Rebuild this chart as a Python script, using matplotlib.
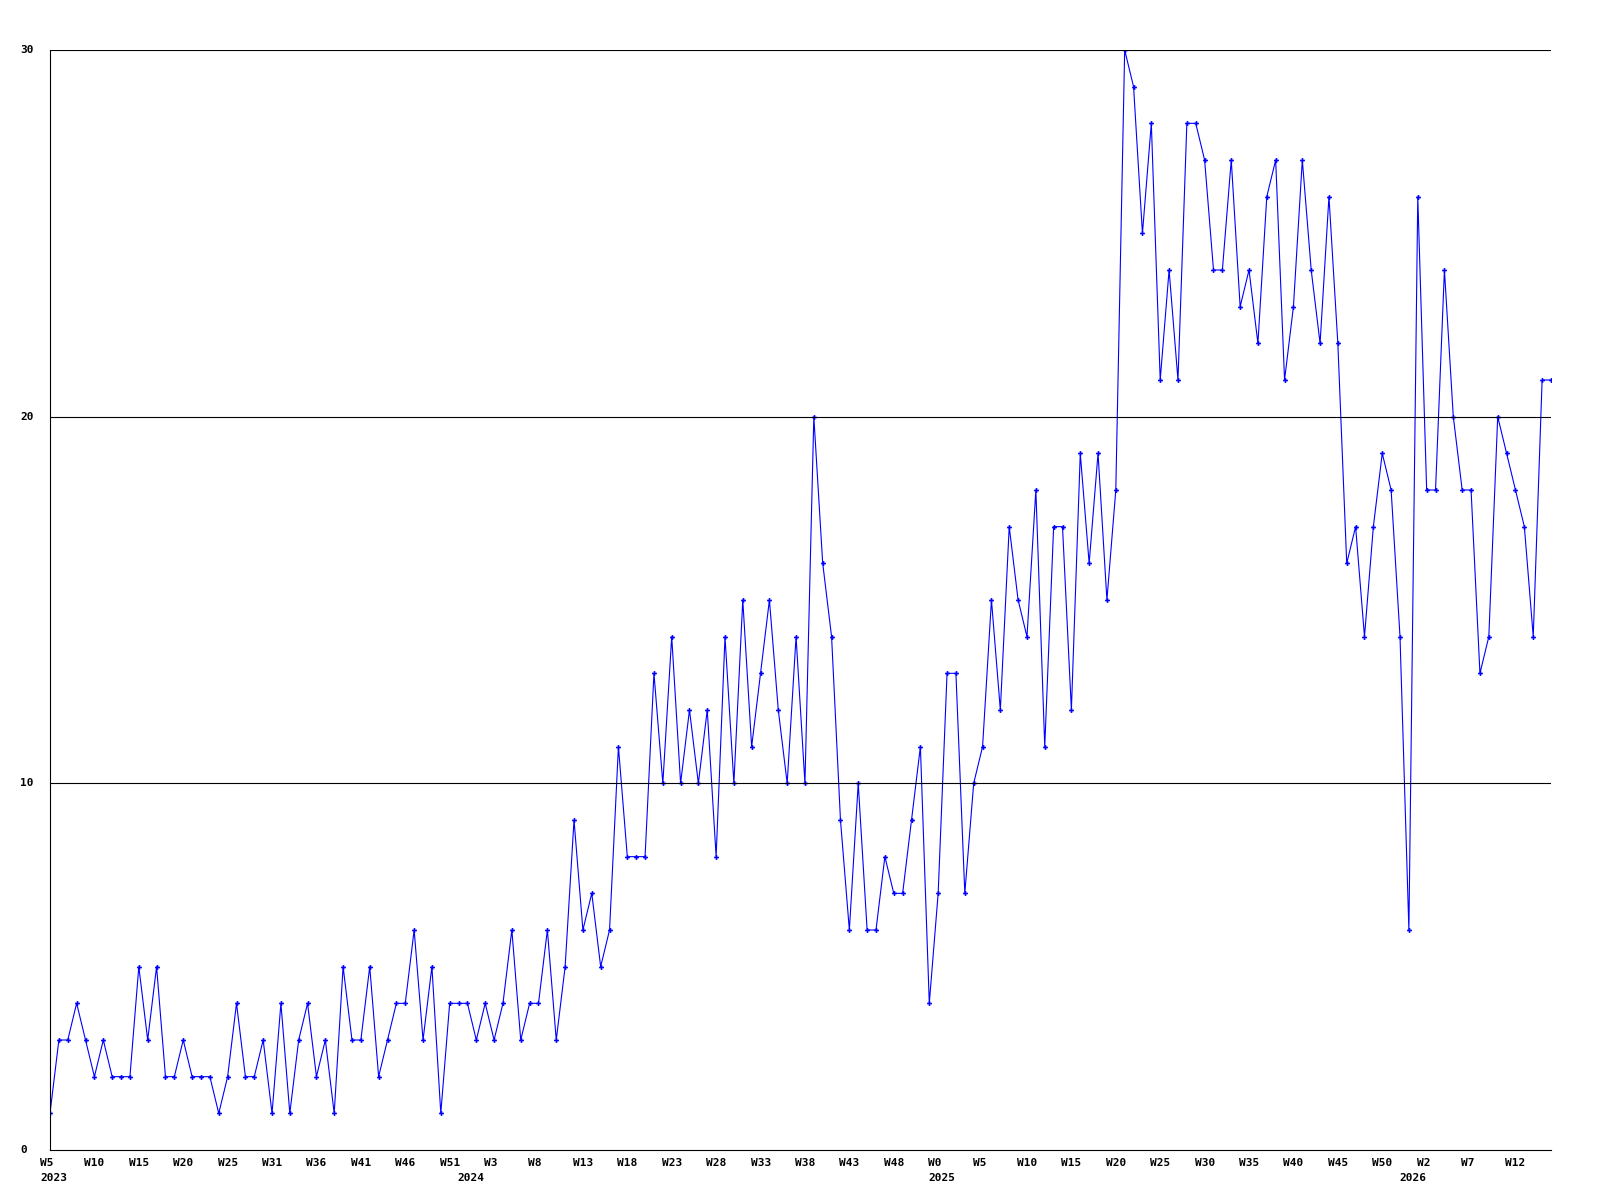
import matplotlib
matplotlib.use('Agg')
import matplotlib.pyplot as plt
import numpy as np

# weekly counts
counts = [1, 3, 3, 4, 3, 2, 3, 2, 2, 2, 5, 3, 5, 2, 2, 3, 2, 2, 2, 1,
          2, 4, 2, 2, 3, 1, 4, 1, 3, 4, 2, 3, 1, 5, 3, 3, 5, 2, 3, 4,
          4, 6, 3, 5, 1, 4, 4, 4, 3, 4, 3, 4, 6, 3, 4, 4, 6, 3, 5, 9,
          6, 7, 5, 6, 11, 8, 8, 8, 13, 10, 14, 10, 12, 10, 12, 8, 14, 10, 15, 11,
          13, 15, 12, 10, 14, 10, 20, 16, 14, 9, 6, 10, 6, 6, 8, 7, 7, 9, 11, 4,
          7, 13, 13, 7, 10, 11, 15, 12, 17, 15, 14, 18, 11, 17, 17, 12, 19, 16, 19, 15,
          18, 30, 29, 25, 28, 21, 24, 21, 28, 28, 27, 24, 24, 27, 23, 24, 22, 26, 27, 21,
          23, 27, 24, 22, 26, 22, 16, 17, 14, 17, 19, 18, 14, 6, 26, 18, 18, 24, 20, 18,
          18, 13, 14, 20, 19, 18, 17, 14, 21, 21]

# week labels, one every 5 points
week_labels = ['W5', 'W10', 'W15', 'W20', 'W25', 'W31', 'W36', 'W41', 'W46', 'W51',
               'W3', 'W8', 'W13', 'W18', 'W23', 'W28', 'W33', 'W38', 'W43', 'W48',
               'W0', 'W5', 'W10', 'W15', 'W20', 'W25', 'W30', 'W35', 'W40', 'W45',
               'W50', 'W2', 'W7', 'W12']
years = ['2023', '2024', '2025', '2026']
year_start = [0, 47, 100, 153]  # index of first point in each year

y_ticks = [0, 10, 20, 30]

x = np.arange(len(counts))

fig = plt.figure(figsize=(16, 12), dpi=100)
ax = fig.add_axes([50 / 1600, 50 / 1200, 1501 / 1600, 1100 / 1200])

ax.plot(x, counts, color='#0000ff', linewidth=0.8, marker='P',
        markersize=3.5, markeredgewidth=0)

ax.set_xlim(0, len(counts) - 1)
ax.set_ylim(0, 30)

for s in ['top', 'right']:
    ax.spines[s].set_visible(False)
ax.spines['left'].set_linewidth(0.8)
ax.spines['bottom'].set_linewidth(0.8)

for v in y_ticks[1:]:
    ax.axhline(v, color='black', linewidth=0.8)

ax.set_xticks([])
ax.set_yticks([])

font = dict(family='DejaVu Sans Mono', weight='bold', fontsize=8)

for v in y_ticks:
    ax.annotate(str(v), xy=(0, v), xycoords=('axes fraction', 'data'),
                xytext=(-30, 0), textcoords='offset pixels',
                ha='left', va='center', **font)

for i, lab in enumerate(week_labels):
    ax.annotate(lab, xy=(i * 5, 0), xycoords=('data', 'axes fraction'),
                xytext=(-10, -8), textcoords='offset pixels',
                ha='left', va='top', annotation_clip=False, **font)

for yr, idx in zip(years, year_start):
    ax.annotate(yr, xy=(idx, 0), xycoords=('data', 'axes fraction'),
                xytext=(-10, -23), textcoords='offset pixels',
                ha='left', va='top', annotation_clip=False, **font)

fig.savefig('out.png', dpi=100, facecolor='white')
